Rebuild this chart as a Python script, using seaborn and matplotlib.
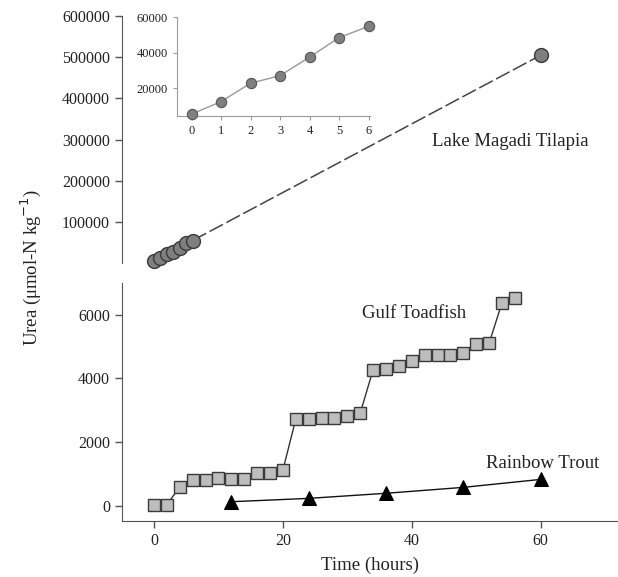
import numpy as np
import pandas as pd
import matplotlib
matplotlib.use("Agg")
import matplotlib.pyplot as plt
import seaborn as sns

# data
tilapia_time = [0, 1, 2, 3, 4, 5, 6, 60]
tilapia_urea = [5500, 12600, 22900, 27200, 37600, 48600, 54900, 505000]

toadfish_time = list(range(0, 57, 2))
toadfish_urea = [30, 40, 600, 830, 830, 885, 860, 860, 1040, 1040, 1125,
                 2720, 2740, 2760, 2760, 2830, 2915, 4270, 4300, 4400, 4560,
                 4730, 4730, 4730, 4790, 5080, 5100, 6375, 6520]

trout_time = [12, 24, 36, 48, 60]
trout_urea = [135, 240, 400, 585, 835]

sns.set_style("ticks")
plt.rcParams['font.family'] = ['Liberation Serif', 'DejaVu Serif']

tilapia = pd.DataFrame({"time": tilapia_time, "urea": tilapia_urea})
toad = pd.DataFrame({"time": toadfish_time, "urea": toadfish_urea})
trout = pd.DataFrame({"time": trout_time, "urea": trout_urea})

W, H = 618, 577
fig = plt.figure(figsize=(W / 100, H / 100), dpi=100)
ax_top = fig.add_axes([0.197, 0.544, 0.803, 0.428])
ax_bot = fig.add_axes([0.197, 0.097, 0.803, 0.413])
ax_in = fig.add_axes([0.286, 0.799, 0.313, 0.172])

spine_c = "#555555"
tick_kw = dict(labelsize=11.5, colors=spine_c, labelcolor="#222222", length=5, width=1)


def px_text(x, y, s, **kw):
    # position given in pixels from the top-left corner
    fig.text(x / W, 1 - y / H, s, fontsize=13.5, ha="center", va="center",
             color="#222222", **kw)


# top panel: Lake Magadi Tilapia
early = tilapia.iloc[:-1]
ax_top.plot(tilapia["time"].iloc[-2:], tilapia["urea"].iloc[-2:], color="#444444",
            lw=1.1, dashes=(10, 2.5), zorder=1)
sns.lineplot(data=early, x="time", y="urea", ax=ax_top, color="#444444", lw=1,
             zorder=2)
sns.scatterplot(data=tilapia, x="time", y="urea", ax=ax_top, s=100, color="#7f7f7f",
                edgecolor="#3a3a3a", linewidth=1, zorder=3, clip_on=False)
ax_top.set_xlim(-5, 72)
ax_top.set_ylim(0, 600000)
ax_top.set_yticks([100000, 200000, 300000, 400000, 500000, 600000])
ax_top.set_xticks([])
ax_top.set_xlabel("")
ax_top.set_ylabel("")
for s in ["top", "right", "bottom"]:
    ax_top.spines[s].set_visible(False)
ax_top.spines["left"].set_color(spine_c)
ax_top.tick_params(axis="y", **tick_kw)
ax_top.patch.set_alpha(0)

# inset
sns.lineplot(data=early, x="time", y="urea", ax=ax_in, color="#999999", lw=1)
sns.scatterplot(data=early, x="time", y="urea", ax=ax_in, s=55, color="#7f7f7f",
                edgecolor="#555555", linewidth=0.8, zorder=3, clip_on=False)
ax_in.set_xlim(-0.5, 6.05)
ax_in.set_ylim(4500, 60300)
ax_in.set_yticks([20000, 40000, 60000])
ax_in.set_xticks(range(7))
ax_in.set_xlabel("")
ax_in.set_ylabel("")
for s in ["top", "right"]:
    ax_in.spines[s].set_visible(False)
for s in ["left", "bottom"]:
    ax_in.spines[s].set_color("#999999")
ax_in.tick_params(labelsize=9, colors="#999999", labelcolor="#222222", length=3, width=0.8)
ax_in.patch.set_alpha(0)

# bottom panel
sns.lineplot(data=toad, x="time", y="urea", ax=ax_bot, color="#333333", lw=1,
             marker="s", markersize=9, markerfacecolor="#bdbdbd",
             markeredgecolor="#3a3a3a", markeredgewidth=1)
sns.lineplot(data=trout, x="time", y="urea", ax=ax_bot, color="#111111", lw=1,
             marker="^", markersize=10, markerfacecolor="black",
             markeredgecolor="black")
ax_bot.set_xlim(-5, 72)
ax_bot.set_ylim(-470, 7000)
ax_bot.set_yticks([0, 2000, 4000, 6000])
ax_bot.set_xticks([0, 20, 40, 60])
ax_bot.set_xlabel("Time (hours)", fontsize=13.5, color="#222222", labelpad=6)
ax_bot.set_ylabel("")
for s in ["top", "right"]:
    ax_bot.spines[s].set_visible(False)
for s in ["left", "bottom"]:
    ax_bot.spines[s].set_color(spine_c)
ax_bot.tick_params(**tick_kw)
ax_bot.patch.set_alpha(0)

px_text(510, 142, "Lake Magadi Tilapia")
px_text(414, 313, "Gulf Toadfish")
px_text(543, 463, "Rainbow Trout")

fig.text(0.05, 0.537, "Urea (\u03bcmol-N kg$^{-1}$)", rotation=90, fontsize=13.5,
         ha="center", va="center", color="#222222")

fig.savefig("out.png", dpi=100)
